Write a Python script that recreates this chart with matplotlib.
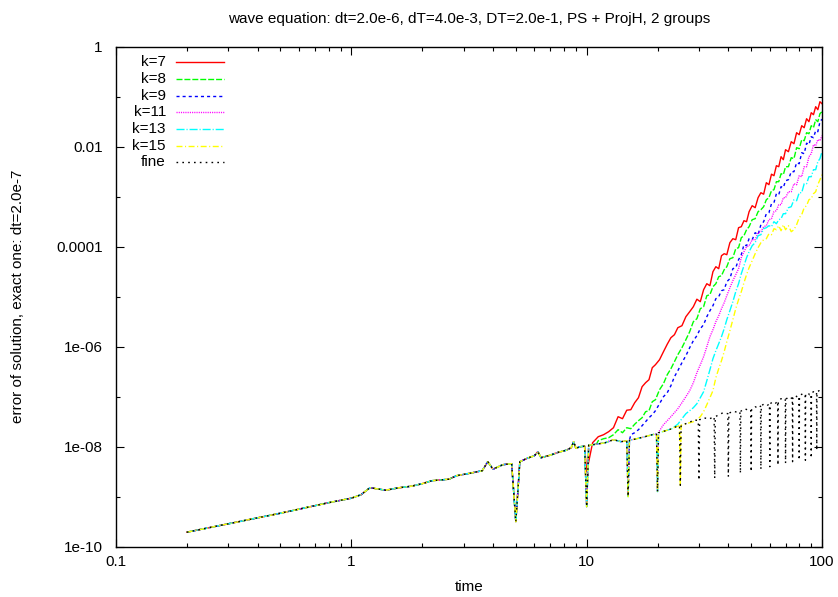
import numpy as np
import matplotlib
matplotlib.use("Agg")
import matplotlib.pyplot as plt
from matplotlib.ticker import FixedLocator, FixedFormatter, LogLocator, NullFormatter

# ---- data (errors stored as log10 values) ----
# reference run ("fine"), shared by all k-curves until they separate
t_fine = np.array([
    0.2, 0.5, 0.8, 1.0, 1.1, 1.2, 1.4, 1.6, 1.8, 2.0, 2.2, 2.6, 2.8, 3.2, 3.6, 3.8, 4.0, 4.4,
    4.8, 5.0, 5.2, 5.6, 6.0, 6.2, 6.4, 7.0, 7.6, 8.2, 8.6, 8.8, 9.0, 9.4, 9.8, 10.0, 10.2,
    11.0, 12.0, 13.0, 14.0, 14.8, 15.0, 15.2, 16.0, 17.0, 18.0, 19.0, 19.8, 20.0, 20.2,
    21.0, 22.0, 23.0, 24.0, 24.8, 25.0, 25.2, 26.0, 27.5, 28.5, 29.8, 30.0, 30.2,
    31.5, 33.0, 34.8, 35.0, 35.2, 36.5, 38.0, 39.8, 40.0, 40.2, 42.0, 43.5, 44.8, 45.0, 45.2,
    47.0, 48.5, 49.8, 50.0, 50.2, 52.0, 53.5, 54.8, 55.0, 55.2, 57.0, 58.5, 59.8, 60.0, 60.2,
    62.0, 63.5, 64.8, 65.0, 65.2, 67.0, 68.5, 69.8, 70.0, 70.2, 72.0, 73.5, 74.8, 75.0, 75.2,
    77.0, 78.5, 79.8, 80.0, 80.2, 82.0, 83.5, 84.8, 85.0, 85.2, 87.0, 88.5, 89.8, 90.0, 90.2,
    92.0, 93.5, 94.8, 95.0, 95.2, 97.0, 98.5, 100.0])
lg_fine = np.array([
    -9.71, -9.33, -9.12, -9.03, -8.96, -8.82, -8.87, -8.82, -8.79, -8.74, -8.68, -8.65, -8.58,
    -8.53, -8.48, -8.30, -8.45, -8.36,
    -8.34, -9.50, -8.30, -8.23, -8.18, -8.10, -8.22, -8.17, -8.11, -8.07, -8.02, -7.90, -8.03,
    -8.00, -7.99, -9.20, -7.97,
    -7.95, -7.92, -7.86, -7.90, -7.88, -9.00, -7.87, -7.85, -7.82, -7.79, -7.76, -7.74, -8.90, -7.72,
    -7.70, -7.67, -7.64, -7.60, -7.58, -8.77, -7.57, -7.55, -7.51, -7.46, -7.48, -8.67, -7.46,
    -7.42, -7.45, -7.40, -8.63, -7.40, -7.36, -7.32, -7.34, -8.60, -7.33, -7.29, -7.31, -7.30, -8.53, -7.29,
    -7.24, -7.27, -7.26, -8.50, -7.25, -7.20, -7.23, -7.19, -8.45, -7.18, -7.14, -7.17, -7.15, -8.40, -7.14,
    -7.10, -7.13, -7.09, -8.37, -7.08, -7.04, -7.07, -7.05, -8.33, -7.05, -7.01, -7.04, -7.02, -8.30, -7.02,
    -6.97, -7.01, -6.99, -8.27, -6.98, -6.95, -6.99, -6.97, -8.27, -6.96, -6.92, -6.96, -6.94, -8.23, -6.93,
    -6.90, -6.94, -6.92, -8.07, -6.91, -6.88, -6.91, -6.90])

# time grid of the diverging part; each k-curve's values are aligned to its end
t_tail = np.array([
    10.0, 10.6, 11.2, 11.8, 12.4, 13.0, 13.6, 14.2, 14.8, 15.4, 16.0, 16.6, 17.2, 17.8, 18.4,
    19.0, 19.6, 20.4, 21.2, 22.0, 22.8, 23.6, 24.4, 25.4, 26.4, 27.4, 28.4, 29.4, 30.4, 31.4,
    32.4, 33.4, 34.4, 35.4, 36.4, 37.4, 38.4, 39.4, 40.6, 41.8, 43.0, 44.2, 45.4, 46.6, 47.8,
    49.0, 50.5, 52.0, 53.5, 55.0, 56.5, 58.0, 59.5, 61.0, 62.5, 64.0, 65.5, 67.0, 68.5,
    70.0, 72.0, 74.0, 76.0, 78.0, 80.0, 82.0, 84.0, 86.0, 88.0, 90.0, 92.0, 94.0, 96.0, 98.0, 100.0])

lg_k7 = [-8.50, -7.92, -7.80, -7.76, -7.70, -7.62, -7.40, -7.44, -7.27, -7.26, -7.12, -7.02,
         -6.80, -6.72, -6.66, -6.42, -6.36, -6.26, -6.10, -5.95, -5.82, -5.76, -5.62, -5.58,
         -5.40, -5.30, -5.20, -5.05, -5.10, -4.86, -4.74, -4.78, -4.50, -4.40, -4.44, -4.18,
         -4.14, -4.16, -3.92, -3.84, -3.86, -3.62, -3.60, -3.48, -3.50, -3.30, -3.18, -3.22,
         -3.02, -2.92, -2.95, -2.72, -2.76, -2.55, -2.58, -2.38, -2.40, -2.20, -2.26, -2.06,
         -2.10, -1.90, -1.94, -1.72, -1.76, -1.58, -1.62, -1.44, -1.50, -1.32, -1.36, -1.20,
         -1.26, -1.10, -1.14]
lg_k8 = [-7.88, -7.84, -7.82, -7.76, -7.66, -7.72, -7.62, -7.64, -7.55, -7.48, -7.42, -7.30,
         -7.28, -7.10, -7.06, -6.86, -6.74, -6.56, -6.44, -6.30, -6.16, -6.02, -5.86, -5.70,
         -5.50, -5.44, -5.24, -5.20, -4.98, -4.96, -4.80, -4.74, -4.60, -4.58, -4.46, -4.40,
         -4.24, -4.22, -4.04, -4.02, -3.82, -3.78, -3.66, -3.60, -3.46, -3.44, -3.30, -3.26,
         -3.20, -3.06, -3.02, -2.88, -2.86, -2.70, -2.70, -2.54, -2.56, -2.40, -2.40, -2.22,
         -2.24, -2.02, -2.04, -1.86, -1.88, -1.72, -1.74, -1.58, -1.62, -1.46, -1.50, -1.34,
         -1.30]
lg_k9 = [-7.76, -7.72, -7.66, -7.58, -7.50, -7.42, -7.36, -7.28, -7.14, -7.00, -6.92, -6.78,
         -6.60, -6.48, -6.32, -6.18, -6.02, -5.88, -5.78, -5.64, -5.56, -5.40, -5.28, -5.18,
         -5.04, -5.00, -4.88, -4.86, -4.70, -4.64, -4.44, -4.42, -4.26, -4.16, -3.96, -3.98,
         -3.84, -3.86, -3.72, -3.76, -3.56, -3.50, -3.34, -3.32, -3.14, -3.12, -2.94, -2.96,
         -2.80, -2.82, -2.68, -2.66, -2.50, -2.50, -2.32, -2.34, -2.12, -2.14, -1.93, -1.96,
         -1.80, -1.82, -1.68, -1.70, -1.50, -1.45]
lg_k11 = [-7.68, -7.56, -7.48, -7.40, -7.32, -7.24, -7.12, -7.00, -6.88, -6.72, -6.52, -6.36,
          -6.20, -6.00, -5.80, -5.66, -5.50, -5.38, -5.24, -5.12, -4.98, -4.82, -4.68, -4.56,
          -4.44, -4.22, -4.10, -4.00, -3.98, -3.86, -3.86, -3.72, -3.70, -3.60, -3.58, -3.46,
          -3.44, -3.30, -3.28, -3.16, -3.16, -3.02, -3.02, -2.90, -2.90, -2.74, -2.76, -2.58,
          -2.60, -2.40, -2.40, -2.20, -2.14, -1.96, -1.98, -1.86, -1.88, -1.78]
lg_k13 = [-7.60, -7.55, -7.44, -7.34, -7.28, -7.22, -7.14, -7.02, -6.90, -6.68, -6.46, -6.24,
          -6.08, -5.94, -5.80, -5.64, -5.46, -5.28, -5.10, -4.90, -4.74, -4.54, -4.38, -4.22,
          -4.10, -3.98, -3.92, -3.78, -3.76, -3.64, -3.62, -3.58, -3.60, -3.50, -3.54, -3.46,
          -3.44, -3.34, -3.34, -3.22, -3.20, -3.06, -3.08, -2.92, -2.92, -2.74, -2.74, -2.60,
          -2.60, -2.46, -2.46, -2.30, -2.24, -2.10]
lg_k15 = [-7.52, -7.50, -7.46, -7.40, -7.30, -7.16, -7.02, -6.88, -6.62, -6.44, -6.28, -6.10,
          -5.90, -5.68, -5.46, -5.24, -5.06, -4.90, -4.72, -4.56, -4.42, -4.28, -4.14, -4.02,
          -3.92, -3.86, -3.84, -3.74, -3.76, -3.64, -3.66, -3.58, -3.68, -3.56, -3.66, -3.58,
          -3.70, -3.66, -3.56, -3.42, -3.36, -3.22, -3.18, -3.06, -3.04, -2.94, -2.90, -2.76,
          -2.66, -2.56]

labels = ["k=7", "k=8", "k=9", "k=11", "k=13", "k=15"]
tails = [lg_k7, lg_k8, lg_k9, lg_k11, lg_k13, lg_k15]

x_ticks = [0.1, 1, 10, 100]
x_tick_labels = ["0.1", "1", "10", "100"]
y_ticks = [1e-10, 1e-8, 1e-6, 1e-4, 1e-2, 1]
y_tick_labels = ["1e-10", "1e-08", "1e-06", "0.0001", "0.01", "1"]
y_minor = [1e-9, 1e-7, 1e-5, 1e-3, 1e-1]

# ---- styles (gnuplot-like) ----
colors = ["#ff0000", "#00ff00", "#0000ff", "#ff00ff", "#00ffff", "#ffff00"]
styles = ["-", (0, (4.3, 1.4)), (0, (2.2, 2.2)), (0, (0.8, 0.8)),
          (0, (5.8, 1.4, 0.8, 1.4)), (0, (4.3, 1.8, 0.8, 1.8))]
fine_style = (0, (1.2, 3.0))

plt.rcParams['font.family'] = ['Liberation Sans', 'DejaVu Sans']
plt.rcParams['font.size'] = 11

W, H = 838, 597
fig = plt.figure(figsize=(W / 100, H / 100), dpi=100)
ax = fig.add_axes([116 / W, (H - 546.7) / H, 706 / W, 500 / H])


def build(tail):
    n = len(tail)
    pre = t_fine < t_tail[-n]
    t = np.concatenate([t_fine[pre], t_tail[-n:]])
    v = np.concatenate([lg_fine[pre], np.array(tail)])
    return t, 10.0 ** v


for tail, c, ls in zip(tails, colors, styles):
    t, v = build(tail)
    ax.plot(t, v, color=c, lw=1.0, ls=ls)
ax.plot(t_fine, 10.0 ** lg_fine, color="k", lw=1.0, ls=fine_style)

ax.set_xscale("log")
ax.set_yscale("log")
ax.set_xlim(0.1, 100)
ax.set_ylim(1e-10, 1)

ax.xaxis.set_major_locator(FixedLocator(x_ticks))
ax.xaxis.set_major_formatter(FixedFormatter(x_tick_labels))
ax.xaxis.set_minor_locator(LogLocator(base=10, subs=np.arange(2, 10)))
ax.xaxis.set_minor_formatter(NullFormatter())
ax.yaxis.set_major_locator(FixedLocator(y_ticks))
ax.yaxis.set_major_formatter(FixedFormatter(y_tick_labels))
ax.yaxis.set_minor_locator(FixedLocator(y_minor))
ax.yaxis.set_minor_formatter(NullFormatter())

ax.tick_params(which="both", direction="in", top=True, right=True, width=0.8, colors="k")
ax.tick_params(which="major", length=6)
ax.tick_params(which="minor", length=3)
ax.tick_params(axis="y", pad=9.5, labelsize=11)
ax.tick_params(axis="x", pad=6, labelsize=11)
for s in ax.spines.values():
    s.set_linewidth(1.0)

fig.text(469 / W, 1 - 19 / H, "wave equation: dt=2.0e-6, dT=4.0e-3, DT=2.0e-1, PS + ProjH, 2 groups",
         ha="center", va="center", fontsize=11)
fig.text(469 / W, 1 - 587 / H, "time", ha="center", va="center", fontsize=11)
fig.text(18 / W, 1 - 296.7 / H, "error of solution, exact one: dt=2.0e-7",
         ha="center", va="center", rotation=90, fontsize=11)

# legend in gnuplot layout: right aligned text, sample to the right
all_labels = labels + ["fine"]
all_colors = colors + ["k"]
all_styles = styles + [fine_style]
for i, (lab, c, ls) in enumerate(zip(all_labels, all_colors, all_styles)):
    yy = 1 - (62.3 - 46.7 + i * 16.67) / 500
    ax.text(0.0708, yy, lab, transform=ax.transAxes, ha="right", va="center", fontsize=11)
    ax.plot([0.085, 0.153], [yy, yy], transform=ax.transAxes, color=c, lw=1.0, ls=ls)

fig.savefig("out.png", dpi=100)
